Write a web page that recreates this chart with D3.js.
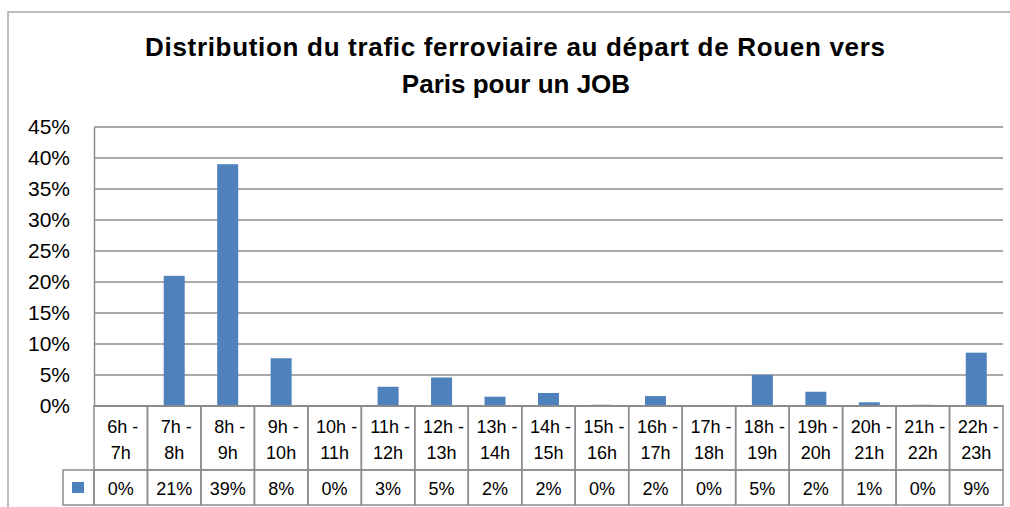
<!DOCTYPE html>
<html lang="fr">
<head>
<meta charset="utf-8">
<title>Distribution du trafic ferroviaire</title>
<script src="https://d3js.org/d3.v7.min.js"></script>
<style>
  body { margin: 0; background: #fff; }
  svg text { font-family: "Liberation Sans", Arial, sans-serif; fill: #000; }
  .title { font-weight: bold; font-size: 26px; }
  .grid line { stroke: #8c8c8c; stroke-width: 1.5; }
  .cell { stroke: #8c8c8c; stroke-width: 1.5; fill: none; }
</style>
</head>
<body>
<svg width="1010" height="507"></svg>
<script>
// data
var categories = ["6h -|7h", "7h -|8h", "8h -|9h", "9h -|10h", "10h -|11h", "11h -|12h",
  "12h -|13h", "13h -|14h", "14h -|15h", "15h -|16h", "16h -|17h", "17h -|18h",
  "18h -|19h", "19h -|20h", "20h -|21h", "21h -|22h", "22h -|23h"];
var values = [0, 21.0, 39.0, 7.7, 0, 3.1, 4.6, 1.5, 2.1, 0.2, 1.6, 0, 5.0, 2.3, 0.6, 0.2, 8.6];
var yTicks = [0, 5, 10, 15, 20, 25, 30, 35, 40, 45];

var svg = d3.select("svg");
var margin = {left: 94, top: 127, right: 1003, bottom: 406};

var x = d3.scaleBand().domain(categories).range([margin.left, margin.right]).paddingInner(0).paddingOuter(0);
var y = d3.scaleLinear().domain([0, 45]).range([margin.bottom, margin.top]);

// chart frame
svg.append("path")
    .attr("d", "M8,520V12H1020")
    .attr("fill", "none")
    .attr("stroke", "#a6a6a6")
    .attr("stroke-width", 1.5);

// title
var title = svg.append("text").attr("class", "title").attr("text-anchor", "middle");
title.append("tspan").attr("x", 515).attr("y", 56).attr("textLength", 740).text("Distribution du trafic ferroviaire au départ de Rouen vers");
title.append("tspan").attr("x", 516).attr("y", 93).text("Paris pour un JOB");

// gridlines
svg.append("g").attr("class", "grid")
  .selectAll("line").data(yTicks.slice(1)).enter().append("line")
    .attr("x1", margin.left).attr("x2", margin.right)
    .attr("y1", function(d) { return y(d); })
    .attr("y2", function(d) { return y(d); });

// y axis
var yAxis = svg.append("g")
    .attr("transform", "translate(" + margin.left + ",0)")
    .call(d3.axisLeft(y).tickValues(yTicks).tickSize(0).tickPadding(24)
      .tickFormat(function(d) { return d + "%"; }));
yAxis.select(".domain").attr("stroke", "#8c8c8c").attr("stroke-width", 1.5);
yAxis.selectAll("text").style("font-size", "21px").attr("fill", "#000");

// bars
var barW = 21;
svg.selectAll(".bar").data(values).enter().append("rect")
    .attr("class", "bar")
    .attr("fill", "#4f81bd")
    .attr("x", function(d, i) { return x(categories[i]) + x.bandwidth() / 2 - barW / 2; })
    .attr("y", function(d) { return y(d); })
    .attr("width", barW)
    .attr("height", function(d) { return y(0) - y(d); });

// x baseline
svg.append("line")
    .attr("x1", margin.left).attr("x2", margin.right)
    .attr("y1", y(0)).attr("y2", y(0))
    .attr("stroke", "#8c8c8c").attr("stroke-width", 2);

// data table
var rowLabelBottom = 470, rowDataBottom = 505, keyLeft = 63;
var table = svg.append("g");

table.selectAll(".lab").data(categories).enter().append("rect")
    .attr("class", "cell")
    .attr("x", function(d) { return x(d); })
    .attr("y", y(0))
    .attr("width", x.bandwidth())
    .attr("height", rowLabelBottom - y(0));

table.selectAll(".val").data(categories).enter().append("rect")
    .attr("class", "cell")
    .attr("x", function(d) { return x(d); })
    .attr("y", rowLabelBottom)
    .attr("width", x.bandwidth())
    .attr("height", rowDataBottom - rowLabelBottom);

table.append("rect").attr("class", "cell")
    .attr("x", keyLeft).attr("y", rowLabelBottom)
    .attr("width", margin.left - keyLeft).attr("height", rowDataBottom - rowLabelBottom);

table.append("rect")
    .attr("x", 72).attr("y", 482).attr("width", 12).attr("height", 11)
    .attr("fill", "#4f81bd");

var labels = table.selectAll(".catlab").data(categories).enter().append("text")
    .attr("text-anchor", "middle")
    .style("font-size", "18px");
labels.append("tspan")
    .attr("x", function(d) { return x(d) + x.bandwidth() / 2 + 2; })
    .attr("y", 433)
    .text(function(d) { return d.split("|")[0]; });
labels.append("tspan")
    .attr("x", function(d) { return x(d) + x.bandwidth() / 2; })
    .attr("y", 459)
    .text(function(d) { return d.split("|")[1]; });

table.selectAll(".vallab").data(values).enter().append("text")
    .attr("text-anchor", "middle")
    .style("font-size", "18px")
    .attr("x", function(d, i) { return x(categories[i]) + x.bandwidth() / 2; })
    .attr("y", 495)
    .text(function(d) { return Math.round(d) + "%"; });
</script>
</body>
</html>
